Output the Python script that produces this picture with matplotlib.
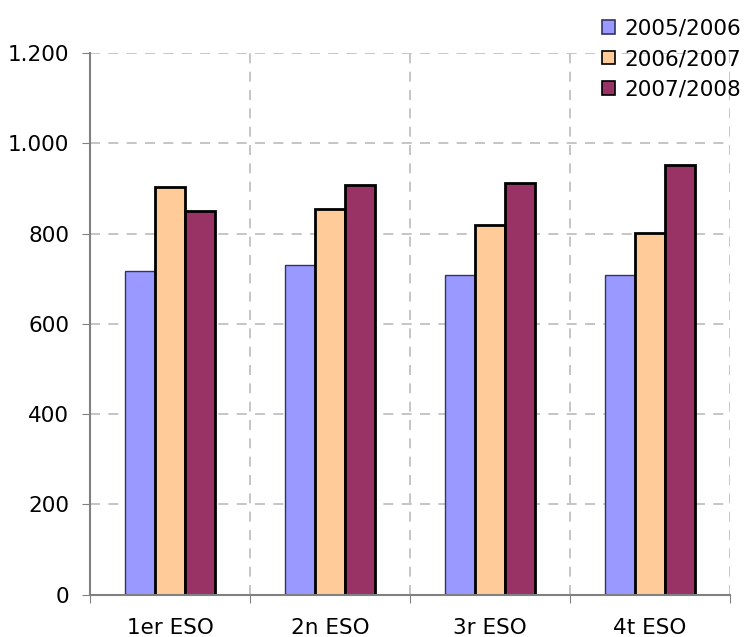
import numpy as np
import matplotlib.pyplot as plt
from matplotlib.ticker import FuncFormatter

# Datos
cursos = ['1er ESO', '2n ESO', '3r ESO', '4t ESO']
series = ['2005/2006', '2006/2007', '2007/2008']
v_2005 = [717, 730, 707, 707]
v_2006 = [903, 854, 818, 801]
v_2007 = [849, 908, 911, 951]
colores = ['#9999FF', '#FFCC99', '#993366']
bordes = ['#333366', 'black', 'black']
gruesos = [1.0, 2.0, 2.0]

fig = plt.figure(figsize=(7.46, 6.37), dpi=100)
ax = fig.add_axes([0.1206, 0.0667, 0.858, 0.8501])

x = np.arange(len(cursos))
w = 0.1875
for i, vals in enumerate([v_2005, v_2006, v_2007]):
    ax.bar(x + (i - 1) * w, vals, w, color=colores[i], edgecolor=bordes[i],
           linewidth=gruesos[i], label=series[i], zorder=3)

ax.set_xlim(-0.5, 3.5)
ax.set_ylim(0, 1200)
ax.set_yticks(np.arange(0, 1201, 200))
ax.yaxis.set_major_formatter(FuncFormatter(lambda v, p: f'{int(v):,}'.replace(',', '.')))

# ticks en los límites de categoría, etiquetas en el centro
ax.set_xticks(np.arange(-0.5, 3.6, 1))
ax.set_xticklabels([])
ax.set_xticks(x, minor=True)
ax.set_xticklabels(cursos, minor=True)
ax.tick_params(axis='x', which='minor', length=0, pad=17, labelsize=15.5)
ax.tick_params(axis='x', which='major', length=6, color='#808080', direction='out')
ax.tick_params(axis='y', length=6, color='#808080', labelsize=15.5, pad=9)

ax.grid(True, which='major', color='#BBBBBB', linestyle=(0, (6, 5)), linewidth=1.2, zorder=0)
for s in ['top', 'right']:
    ax.spines[s].set_visible(False)
for s in ['left', 'bottom']:
    ax.spines[s].set_color('#808080')
    ax.spines[s].set_linewidth(1.5)
    ax.spines[s].set_zorder(4)

leg = fig.legend(loc='upper right', bbox_to_anchor=(1.013, 0.995), frameon=False,
                 fontsize=15.5, handlelength=0.6, handleheight=0.6, handletextpad=0.4,
                 labelspacing=0.5, borderaxespad=0.3)
for h, c in zip(leg.legend_handles, bordes):
    h.set_linewidth(1.2)

fig.savefig('out.png', dpi=100)
